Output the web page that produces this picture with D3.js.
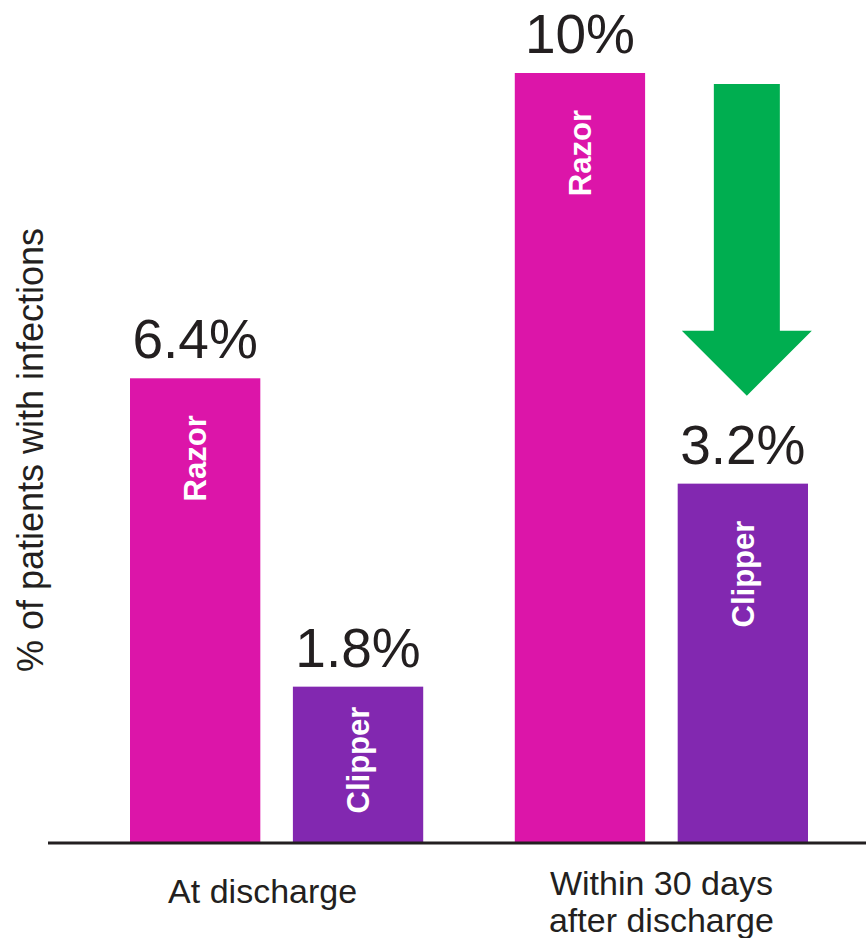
<!DOCTYPE html>
<html>
<head>
<meta charset="utf-8">
<script src="https://cdn.jsdelivr.net/npm/d3@7"></script>
<style>
  body { margin: 0; background: #fff; }
  svg text { font-family: "Liberation Sans", Arial, Helvetica, sans-serif; }
</style>
</head>
<body>
<svg id="chart" width="866" height="938"></svg>
<script>
// categories and series
const categories = ["At discharge", "Within 30 days after discharge"];
const series = ["Razor", "Clipper"];
const razorValues = [6.4, 10];     // printed labels
const clipperValues = [1.8, 3.2];
// bar heights as drawn in the original graphic (not to scale with the labels)
const razorBarLevel = [6.03, 10];
const clipperBarLevel = [2.02, 4.66];
const yTitle = "% of patients with infections";

const colors = { Razor: "#dc15a9", Clipper: "#8228b0" };
const arrowColor = "#00ae50";
const ink = "#231f20";

const svg = d3.select("#chart");
const baseY = 842;

const x0 = d3.scaleBand().domain(categories).range([130, 808]).paddingInner(0.238);
const x1 = d3.scaleBand().domain(series).range([0, x0.bandwidth()]).paddingInner(0.2);
const y = d3.scaleLinear().domain([0, 10]).range([baseY, 73]);

const rows = [];
categories.forEach((c, i) => {
    rows.push({ cat: c, s: "Razor", value: razorValues[i], level: razorBarLevel[i] });
    rows.push({ cat: c, s: "Clipper", value: clipperValues[i], level: clipperBarLevel[i] });
});

const g = svg.append("g");

g.selectAll("rect.bar")
    .data(rows)
    .enter().append("rect")
    .attr("class", "bar")
    .attr("x", d => x0(d.cat) + x1(d.s))
    .attr("y", d => y(d.level))
    .attr("width", x1.bandwidth())
    .attr("height", d => baseY - y(d.level))
    .attr("fill", d => colors[d.s]);

// value labels above bars
g.selectAll("text.value")
    .data(rows)
    .enter().append("text")
    .attr("class", "value")
    .attr("x", d => x0(d.cat) + x1(d.s) + x1.bandwidth() / 2)
    .attr("y", d => y(d.level) - 20)
    .attr("text-anchor", "middle")
    .attr("font-size", 55)
    .attr("fill", ink)
    .text(d => d.value + "%");

// series names inside bars, rotated
g.selectAll("text.inbar")
    .data(rows)
    .enter().append("text")
    .attr("class", "inbar")
    .attr("transform", d => {
        const cx = x0(d.cat) + x1(d.s) + x1.bandwidth() / 2;
        const h = baseY - y(d.level);
        const off = h < 200 ? 20 : 37;
        return `translate(${cx + 11},${y(d.level) + off}) rotate(-90)`;
    })
    .attr("text-anchor", "end")
    .attr("font-size", 31)
    .attr("font-weight", "bold")
    .attr("fill", "#fff")
    .text(d => d.s);

// baseline
svg.append("line")
    .attr("x1", 48).attr("x2", 866)
    .attr("y1", baseY + 1).attr("y2", baseY + 1)
    .attr("stroke", ink)
    .attr("stroke-width", 3);

// category labels
const catLines = [["At discharge"], ["Within 30 days", "after discharge"]];
categories.forEach((c, i) => {
    const t = svg.append("text")
        .attr("x", x0(c) + x0.bandwidth() / 2 - (i === 0 ? 14 : 0))
        .attr("y", i === 0 ? 903 : 895)
        .attr("text-anchor", "middle")
        .attr("font-size", 34)
        .attr("fill", ink);
    catLines[i].forEach((line, k) => {
        t.append("tspan")
            .attr("x", x0(c) + x0.bandwidth() / 2 - (i === 0 ? 14 : 0))
            .attr("dy", k === 0 ? 0 : 37)
            .text(line);
    });
});

// y axis title
svg.append("text")
    .attr("transform", "translate(43,450) rotate(-90)")
    .attr("text-anchor", "middle")
    .attr("font-size", 36)
    .attr("fill", ink)
    .text(yTitle);

// green down arrow from razor level toward clipper level (second group)
const cat2 = categories[1];
const ax = x0(cat2) + x1("Clipper") + x1.bandwidth() / 2 + 4;
const topY = y(razorBarLevel[1]) + 11;
const tipY = y(clipperBarLevel[1]) - 88;
const shaftHalf = 33, headHalf = 65, headH = 65;
const arrowPath = d3.path();
arrowPath.moveTo(ax - shaftHalf, topY);
arrowPath.lineTo(ax + shaftHalf, topY);
arrowPath.lineTo(ax + shaftHalf, tipY - headH);
arrowPath.lineTo(ax + headHalf, tipY - headH);
arrowPath.lineTo(ax, tipY);
arrowPath.lineTo(ax - headHalf, tipY - headH);
arrowPath.lineTo(ax - shaftHalf, tipY - headH);
arrowPath.closePath();
svg.append("path")
    .attr("d", arrowPath.toString())
    .attr("fill", arrowColor);
</script>
</body>
</html>
